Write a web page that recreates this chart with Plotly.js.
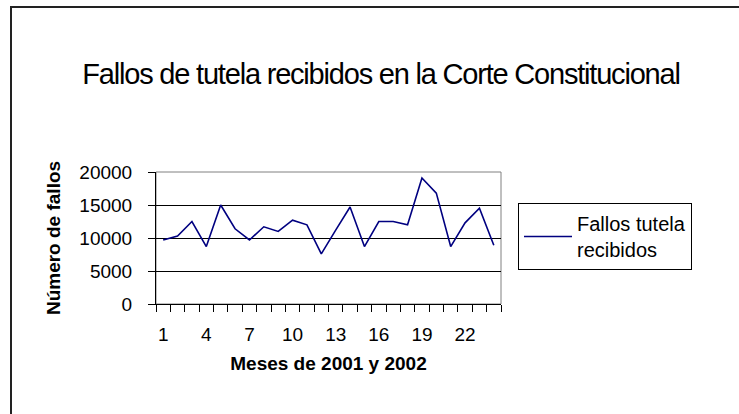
<!DOCTYPE html>
<html>
<head>
<meta charset="utf-8">
<script src="https://cdn.plot.ly/plotly-3.0.1.min.js"></script>
<style>
  html, body { margin: 0; padding: 0; overflow: hidden; background: #fff; width: 739px; height: 414px; }
  #frame { position: absolute; left: 10px; top: 6px; width: 900px; height: 600px; border: 2px solid #222; }
  #chart { position: absolute; left: 0; top: 0; width: 739px; height: 414px; }
  #chart .gtitle { letter-spacing: -1.2px; }
</style>
</head>
<body>
<div id="frame"></div>
<div id="chart"></div>
<script>
const months = [1,2,3,4,5,6,7,8,9,10,11,12,13,14,15,16,17,18,19,20,21,22,23,24];
const fallos = [9700,10300,12500,8700,15000,11400,9700,11700,11000,12700,12000,7600,11200,14700,8700,12500,12500,12000,19100,16800,8700,12300,14500,8900];
const xTickVals = [1,4,7,10,13,16,19,22];
const yTickVals = [0,5000,10000,15000,20000];
const yTickText = ['0','5000','10000','15000','20000'];
const seriesName = 'Fallos tutela<br>recibidos';

const trace = {
  x: months, y: fallos, type: 'scatter', mode: 'lines', name: seriesName,
  line: { color: '#000080', width: 1.6 }
};

const layout = {
  width: 739, height: 414,
  paper_bgcolor: 'rgba(0,0,0,0)', plot_bgcolor: '#fff',
  margin: { l: 156, r: 238, t: 172, b: 110 },
  font: { family: 'Liberation Sans, Arial, sans-serif', color: '#000' },
  title: {
    text: 'Fallos de tutela recibidos en la Corte Constitucional',
    font: { family: 'Liberation Sans, Arial, sans-serif', size: 29, color: '#000' },
    xref: 'container', yref: 'container', x: 381/739, xanchor: 'center', y: 1 - 74/414, yanchor: 'middle'
  },
  xaxis: {
    range: [0.5, 24.5], tickvals: xTickVals, ticktext: xTickVals.map(String),
    ticks: '', showgrid: false, zeroline: false,
    showline: true, linecolor: '#000', linewidth: 1,
    tickfont: { size: 19 }, ticklabelstandoff: 13,
    minor: { tick0: 0.5, dtick: 1, ticks: 'outside', ticklen: 7, tickcolor: '#000', showgrid: false },
    title: { text: 'Meses de 2001 y 2002', font: { size: 19, weight: 'bold' }, standoff: 12 }
  },
  yaxis: {
    range: [0, 20000], tickvals: yTickVals, ticktext: yTickText, ticks: 'outside', ticklen: 7, tickcolor: '#000',
    showgrid: true, gridcolor: '#000', gridwidth: 1, zeroline: false,
    showline: true, linecolor: '#000', linewidth: 1,
    tickfont: { size: 19 }, ticklabelstandoff: 12,
    title: { text: 'Número de fallos', font: { size: 19, weight: 'bold' }, standoff: 13 }
  },
  shapes: [{
    type: 'rect', xref: 'paper', yref: 'paper', x0: 0, x1: 1, y0: 0, y1: 1,
    line: { color: '#808080', width: 1 }, layer: 'below'
  }],
  showlegend: true,
  legend: {
    x: (518-156)/345, xanchor: 'left', y: (304-203)/132, yanchor: 'top',
    bordercolor: '#000', borderwidth: 1, bgcolor: '#fff',
    itemwidth: 48,
    font: { size: 20 }
  }
};

Plotly.newPlot('chart', [trace], layout, { displayModeBar: false, staticPlot: true });
</script>
</body>
</html>
